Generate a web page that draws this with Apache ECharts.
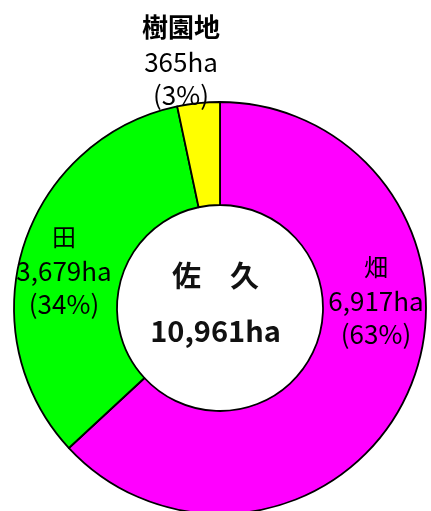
<!DOCTYPE html>
<html>
<head>
<meta charset="utf-8">
<script src="https://cdn.jsdelivr.net/npm/echarts@6/dist/echarts.min.js"></script>
<style>
html,body{margin:0;padding:0;background:#fff;}
#chart{width:431px;height:511px;}
</style>
</head>
<body>
<div id="chart"></div>
<script>
const categories = ['畑', '田', '樹園地'];
const values = [6917, 3679, 365];
const colors = ['#FF00FF', '#00FF00', '#FFFF00'];
const regionName = '佐　久';

const total = values.reduce((a, b) => a + b, 0);
const fmt = n => n.toLocaleString('en-US');
// label anchor points (layout only)
const labelPos = [[376, 300], [64, 270], [181, 60]];

const chart = echarts.init(document.getElementById('chart'));
const FONT = '"Noto Sans CJK JP", sans-serif';

chart.setOption({
  animation: false,
  series: [{
    type: 'pie',
    center: [220, 308],
    radius: [103, 206],
    startAngle: 90,
    clockwise: true,
    avoidLabelOverlap: false,
    itemStyle: { borderColor: '#000', borderWidth: 1.8 },
    label: {
      show: true,
      position: 'inside',
      color: '#000',
      fontFamily: FONT,
      formatter: p => {
        const pct = Math.round(p.value / total * 100);
        const pctStr = '(' + pct + '%)';
        if (p.dataIndex === 2) {
          return '{t|' + p.name + '}\n{v|' + fmt(p.value) + 'ha}\n{v|' + pctStr + '}';
        }
        return '{n|' + p.name + '}\n{v|' + fmt(p.value) + 'ha}\n{v|' + pctStr + '}';
      },
      rich: {
        t: { fontSize: 26, fontWeight: 'bold', fontFamily: FONT, color: '#000', lineHeight: 38 },
        n: { fontSize: 24, fontFamily: FONT, color: '#000', lineHeight: 36 },
        v: { fontSize: 26, fontFamily: FONT, color: '#000', lineHeight: 33 }
      }
    },
    labelLine: { show: false },
    labelLayout: p => ({
      x: labelPos[p.dataIndex][0],
      y: labelPos[p.dataIndex][1],
      align: 'center',
      verticalAlign: 'middle'
    }),
    data: categories.map((c, i) => ({
      name: c,
      value: values[i],
      itemStyle: { color: colors[i] }
    }))
  }],
  graphic: [
    {
      type: 'text',
      left: 'center',
      top: 261,
      style: {
        text: regionName,
        font: 'bold 29px ' + FONT,
        fill: '#111'
      }
    },
    {
      type: 'text',
      left: 'center',
      top: 316,
      style: {
        text: fmt(total) + 'ha',
        font: 'bold 29px ' + FONT,
        fill: '#111'
      }
    }
  ]
});
</script>
</body>
</html>
